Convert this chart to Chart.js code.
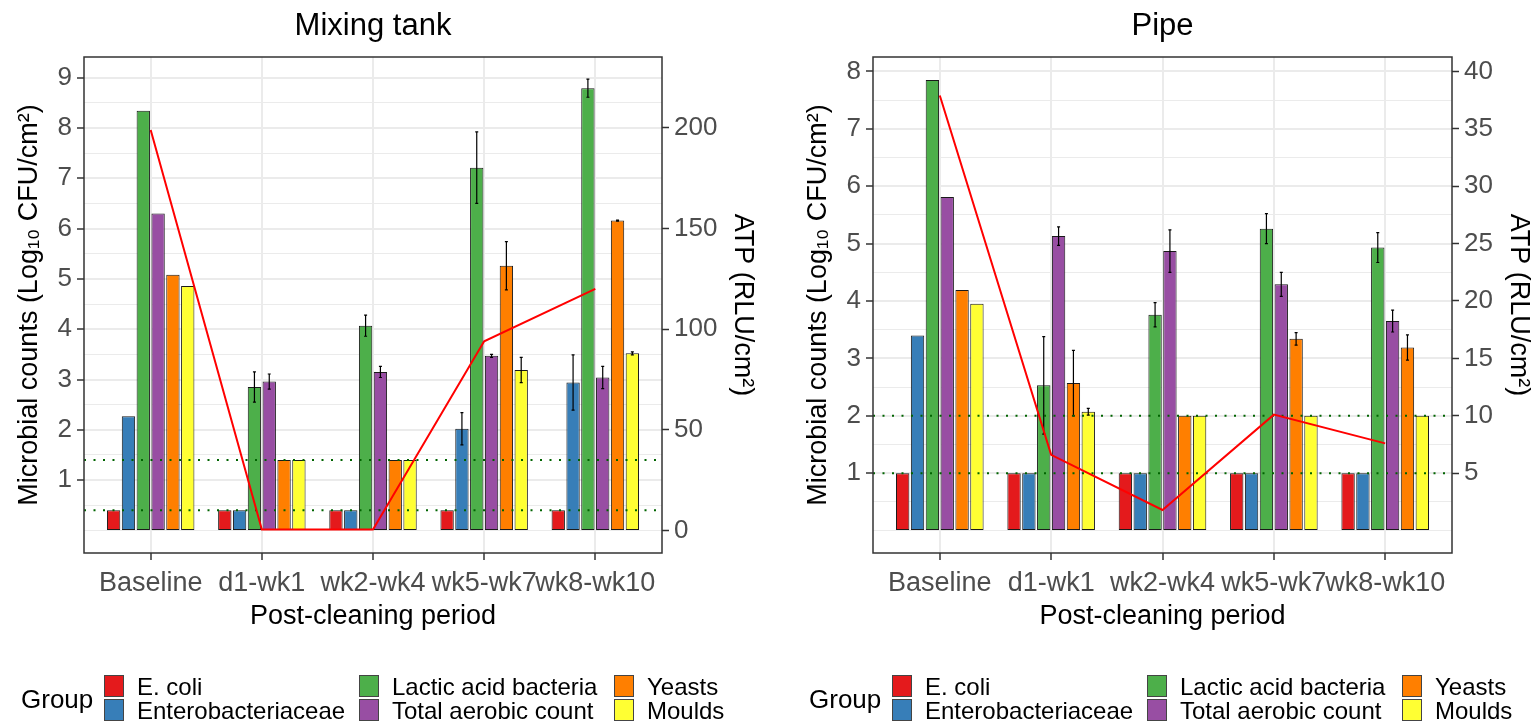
<!DOCTYPE html>
<html>
<head>
<meta charset="utf-8">
<script src="https://cdn.jsdelivr.net/npm/chart.js@4.4.1/dist/chart.umd.min.js"></script>
<style>
    html, body { margin: 0; padding: 0; background: #fff; }
    body { width: 1540px; height: 725px; position: relative; overflow: hidden; font-family: "Liberation Sans", Arial, sans-serif; }
    .panel { position: absolute; top: 0; width: 770px; height: 725px; }
    .lg-title { position: absolute; font-size: 26px; line-height: 26px; color: #000; white-space: nowrap; }
    .lg-key { position: absolute; width: 20px; height: 22px; border: 1px solid #444; box-sizing: border-box; }
    .lg-text { position: absolute; font-size: 24px; line-height: 24px; color: #000; white-space: nowrap; }
</style>
</head>
<body>
<div class="panel" id="mixPanel" style="left:0"><canvas id="mixChart"></canvas></div>
<div class="panel" id="pipePanel" style="left:770px"><canvas id="pipeChart"></canvas></div>

<script>
const categories = ['Baseline', 'd1-wk1', 'wk2-wk4', 'wk5-wk7', 'wk8-wk10'];
const groups = ['E. coli', 'Enterobacteriaceae', 'Lactic acid bacteria', 'Total aerobic count', 'Yeasts', 'Moulds'];
const groupColors = ['#E41A1C', '#377EB8', '#4DAF4A', '#984EA3', '#FF7F00', '#FFFF33'];

// Mixing tank (Log10 CFU/cm2)
const mixEcoli  = [0.40, 0.40, 0.40, 0.40, 0.40];
const mixEntero = [2.27, 0.40, 0.40, 2.02, 2.94];
const mixLab    = [8.34, 2.85, 4.07, 7.21, 8.79];
const mixTac    = [6.30, 2.96, 3.15, 3.47, 3.04];
const mixYeast  = [5.08, 1.40, 1.40, 5.26, 6.16];
const mixMould  = [4.86, 1.40, 1.40, 3.19, 3.52];
const mixEcoliErr  = [0, 0, 0, 0, 0];
const mixEnteroErr = [0, 0, 0, 0.32, 0.55];
const mixLabErr    = [0, 0.30, 0.21, 0.71, 0.18];
const mixTacErr    = [0, 0.15, 0.11, 0.03, 0.22];
const mixYeastErr  = [0, 0, 0, 0.48, 0.01];
const mixMouldErr  = [0, 0, 0, 0.25, 0.03];
const mixAtp = [199, 0.5, 0.5, 94, 120];          // RLU/cm2
const mixLimits = [0.4, 1.4];
const mixLeftTicks = [0, 0.5, 1, 1.5, 2, 2.5, 3, 3.5, 4, 4.5, 5, 5.5, 6, 6.5, 7, 7.5, 8, 8.5, 9];
const mixRightTicks = [0, 50, 100, 150, 200];

// Pipe
const pipeEcoli  = [1.00, 1.00, 1.00, 1.00, 1.00];
const pipeEntero = [3.40, 1.00, 1.00, 1.00, 1.00];
const pipeLab    = [7.85, 2.53, 3.76, 5.26, 4.93];
const pipeTac    = [5.81, 5.13, 4.87, 4.29, 3.65];
const pipeYeast  = [4.19, 2.57, 2.00, 3.34, 3.19];
const pipeMould  = [3.95, 2.07, 2.00, 2.00, 2.00];
const pipeEcoliErr  = [0, 0, 0, 0, 0];
const pipeEnteroErr = [0, 0, 0, 0, 0];
const pipeLabErr    = [0, 0.85, 0.21, 0.26, 0.26];
const pipeTacErr    = [0, 0.16, 0.37, 0.21, 0.19];
const pipeYeastErr  = [0, 0.57, 0, 0.11, 0.22];
const pipeMouldErr  = [0, 0.06, 0, 0, 0];
const pipeAtp = [37.9, 6.6, 1.8, 10.1, 7.6];
const pipeLimits = [1, 2];
const pipeLeftTicks = [0, 0.5, 1, 1.5, 2, 2.5, 3, 3.5, 4, 4.5, 5, 5.5, 6, 6.5, 7, 7.5, 8];
const pipeRightTicks = [5, 10, 15, 20, 25, 30, 35, 40];

const FONT = '"Liberation Sans", Arial, sans-serif';
const TICK_GREY = '#4d4d4d';

// draws error bars right after each bar dataset, so lines stay on top
const errorBars = {
    id: 'errorBars',
    afterDatasetDraw(chart, args) {
        const ds = chart.data.datasets[args.index];
        if (!ds.errors) return;
        const y = chart.scales[args.meta.yAxisID];
        const ctx = chart.ctx;
        ctx.save();
        ctx.strokeStyle = '#000';
        ctx.lineWidth = 1.2;
        args.meta.data.forEach((bar, i) => {
            const e = ds.errors[i];
            if (!e) return;
            const v = ds.data[i].y;
            const top = y.getPixelForValue(v + e);
            const bot = y.getPixelForValue(v - e);
            ctx.beginPath();
            ctx.moveTo(bar.x, top); ctx.lineTo(bar.x, bot);
            ctx.moveTo(bar.x - 1.5, top); ctx.lineTo(bar.x + 1.5, top);
            ctx.moveTo(bar.x - 1.5, bot); ctx.lineTo(bar.x + 1.5, bot);
            ctx.stroke();
        });
        ctx.restore();
    }
};

const panelBorder = {
    id: 'panelBorder',
    afterDraw(chart) {
        const a = chart.chartArea;
        const ctx = chart.ctx;
        ctx.save();
        ctx.strokeStyle = '#333';
        ctx.lineWidth = 1.5;
        ctx.strokeRect(a.left, a.top, a.right - a.left, a.bottom - a.top);
        ctx.restore();
    }
};

function makeChart(canvasId, p) {
    const barSets = p.values.map((vals, g) => ({
        type: 'bar',
        label: groups[g],
        data: vals.map((v, i) => ({ x: i + 1, y: v })),
        errors: p.errors[g],
        backgroundColor: groupColors[g],
        borderColor: '#1a1a1a',
        borderWidth: 1,
        borderSkipped: false,
        categoryPercentage: 0.8,
        barPercentage: 0.9,
        yAxisID: 'y',
        order: 3
    }));
    const limitSets = p.limits.map(l => ({
        type: 'line',
        data: [{ x: 0.4, y: l }, { x: 5.6, y: l }],
        borderColor: '#006400',
        borderWidth: 2,
        borderDash: [2, 7.5],
        pointRadius: 0,
        yAxisID: 'y',
        order: 2
    }));
    const atpSet = {
        type: 'line',
        label: 'ATP',
        data: p.atp.map((v, i) => ({ x: i + 1, y: v })),
        borderColor: '#FF0000',
        borderWidth: 2,
        pointRadius: 0,
        tension: 0,
        yAxisID: 'y2',
        order: 1
    };

    return new Chart(document.getElementById(canvasId), {
        type: 'bar',
        data: { datasets: [...barSets, ...limitSets, atpSet] },
        options: {
            responsive: true,
            maintainAspectRatio: false,
            animation: false,
            events: [],
            layout: { padding: { left: 0, right: 0, top: 0, bottom: 87 } },
            plugins: {
                legend: { display: false },
                tooltip: { enabled: false },
                title: {
                    display: true,
                    text: p.title,
                    fullSize: false,
                    color: '#000',
                    font: { family: FONT, size: 31, weight: 'normal' },
                    padding: { top: 7.5, bottom: 12.3 }
                }
            },
            scales: {
                x: {
                    type: 'linear',
                    min: 0.4,
                    max: 5.6,
                    offset: false,
                    afterBuildTicks: s => { s.ticks = categories.map((c, i) => ({ value: i + 1 })); },
                    afterFit: s => { s.height = 85; },
                    ticks: {
                        autoSkip: false, maxRotation: 0, minRotation: 0,
                        padding: 7.8,
                        color: TICK_GREY,
                        font: { family: FONT, size: 27 },
                        callback: v => categories[v - 1]
                    },
                    grid: { offset: false, color: '#ebebeb', lineWidth: 2, tickColor: '#333', tickWidth: 1.5, tickLength: 7 },
                    border: { display: false },
                    title: {
                        display: true, text: 'Post-cleaning period', color: '#000',
                        font: { family: FONT, size: 27 }, padding: { top: 0, bottom: 4.8 }
                    }
                },
                y: {
                    position: 'left',
                    min: p.yMin,
                    max: p.yMax,
                    afterBuildTicks: s => { s.ticks = p.leftTicks.map(v => ({ value: v })); },
                    afterFit: s => { s.width = p.leftW; },
                    ticks: {
                        autoSkip: false,
                        padding: 5,
                        color: TICK_GREY,
                        font: { family: FONT, size: 26 },
                        callback: v => (v >= 1 && Number.isInteger(v)) ? v : ''
                    },
                    grid: {
                        color: '#ebebeb',
                        lineWidth: c => (c.tick && c.tick.value >= 1 && Number.isInteger(c.tick.value)) ? 2 : 1,
                        tickColor: c => (c.tick && c.tick.value >= 1 && Number.isInteger(c.tick.value)) ? '#333' : 'rgba(0,0,0,0)',
                        tickWidth: 1.5,
                        tickLength: 7
                    },
                    border: { display: false },
                    title: {
                        display: true, text: 'Microbial counts (Log\u2081\u2080 CFU/cm\u00B2)', color: '#000',
                        font: { family: FONT, size: 27 }, padding: { top: p.leftPad, bottom: 0 }
                    }
                },
                y2: {
                    type: 'linear',
                    position: 'right',
                    min: p.yMin * p.atpFactor,
                    max: p.yMax * p.atpFactor,
                    afterBuildTicks: s => { s.ticks = p.rightTicks.map(v => ({ value: v })); },
                    afterFit: s => { s.width = p.rightW; },
                    ticks: {
                        autoSkip: false,
                        padding: 5,
                        color: TICK_GREY,
                        font: { family: FONT, size: 26 }
                    },
                    grid: { drawOnChartArea: false, tickColor: '#333', tickWidth: 1.5, tickLength: 7 },
                    border: { display: false },
                    title: {
                        display: true, text: 'ATP (RLU/cm\u00B2)', color: '#000',
                        font: { family: FONT, size: 27 }, padding: { top: p.rightPad, bottom: 0 }
                    }
                }
            }
        },
        plugins: [errorBars, panelBorder]
    });
}

function makeLegend(panelId, left) {
    const panel = document.getElementById(panelId);
    const title = document.createElement('div');
    title.className = 'lg-title';
    title.textContent = 'Group';
    title.style.left = left + 'px';
    title.style.top = '686px';
    panel.appendChild(title);
    const colOffsets = [83, 338, 593];
    const rowTops = [675, 699];
    groups.forEach((g, i) => {
        const col = Math.floor(i / 2), row = i % 2;
        const key = document.createElement('div');
        key.className = 'lg-key';
        key.style.background = groupColors[i];
        key.style.left = (left + colOffsets[col]) + 'px';
        key.style.top = rowTops[row] + 'px';
        panel.appendChild(key);
        const txt = document.createElement('div');
        txt.className = 'lg-text';
        txt.textContent = g;
        txt.style.left = (left + colOffsets[col] + 33) + 'px';
        txt.style.top = rowTops[row] + 'px';
        panel.appendChild(txt);
    });
}

makeChart('mixChart', {
    title: 'Mixing tank',
    values: [mixEcoli, mixEntero, mixLab, mixTac, mixYeast, mixMould],
    errors: [mixEcoliErr, mixEnteroErr, mixLabErr, mixTacErr, mixYeastErr, mixMouldErr],
    atp: mixAtp,
    limits: mixLimits,
    leftTicks: mixLeftTicks,
    rightTicks: mixRightTicks,
    yMin: -0.448, yMax: 9.41, atpFactor: 25,
    leftW: 84, rightW: 108, leftPad: 13.5, rightPad: 11.3
});
makeChart('pipeChart', {
    title: 'Pipe',
    values: [pipeEcoli, pipeEntero, pipeLab, pipeTac, pipeYeast, pipeMould],
    errors: [pipeEcoliErr, pipeEnteroErr, pipeLabErr, pipeTacErr, pipeYeastErr, pipeMouldErr],
    atp: pipeAtp,
    limits: pipeLimits,
    leftTicks: pipeLeftTicks,
    rightTicks: pipeRightTicks,
    yMin: -0.39, yMax: 8.25, atpFactor: 5,
    leftW: 103, rightW: 88, leftPad: 32.8, rightPad: 5.8
});
makeLegend('mixPanel', 21);
makeLegend('pipePanel', 39);
</script>
</body>
</html>
